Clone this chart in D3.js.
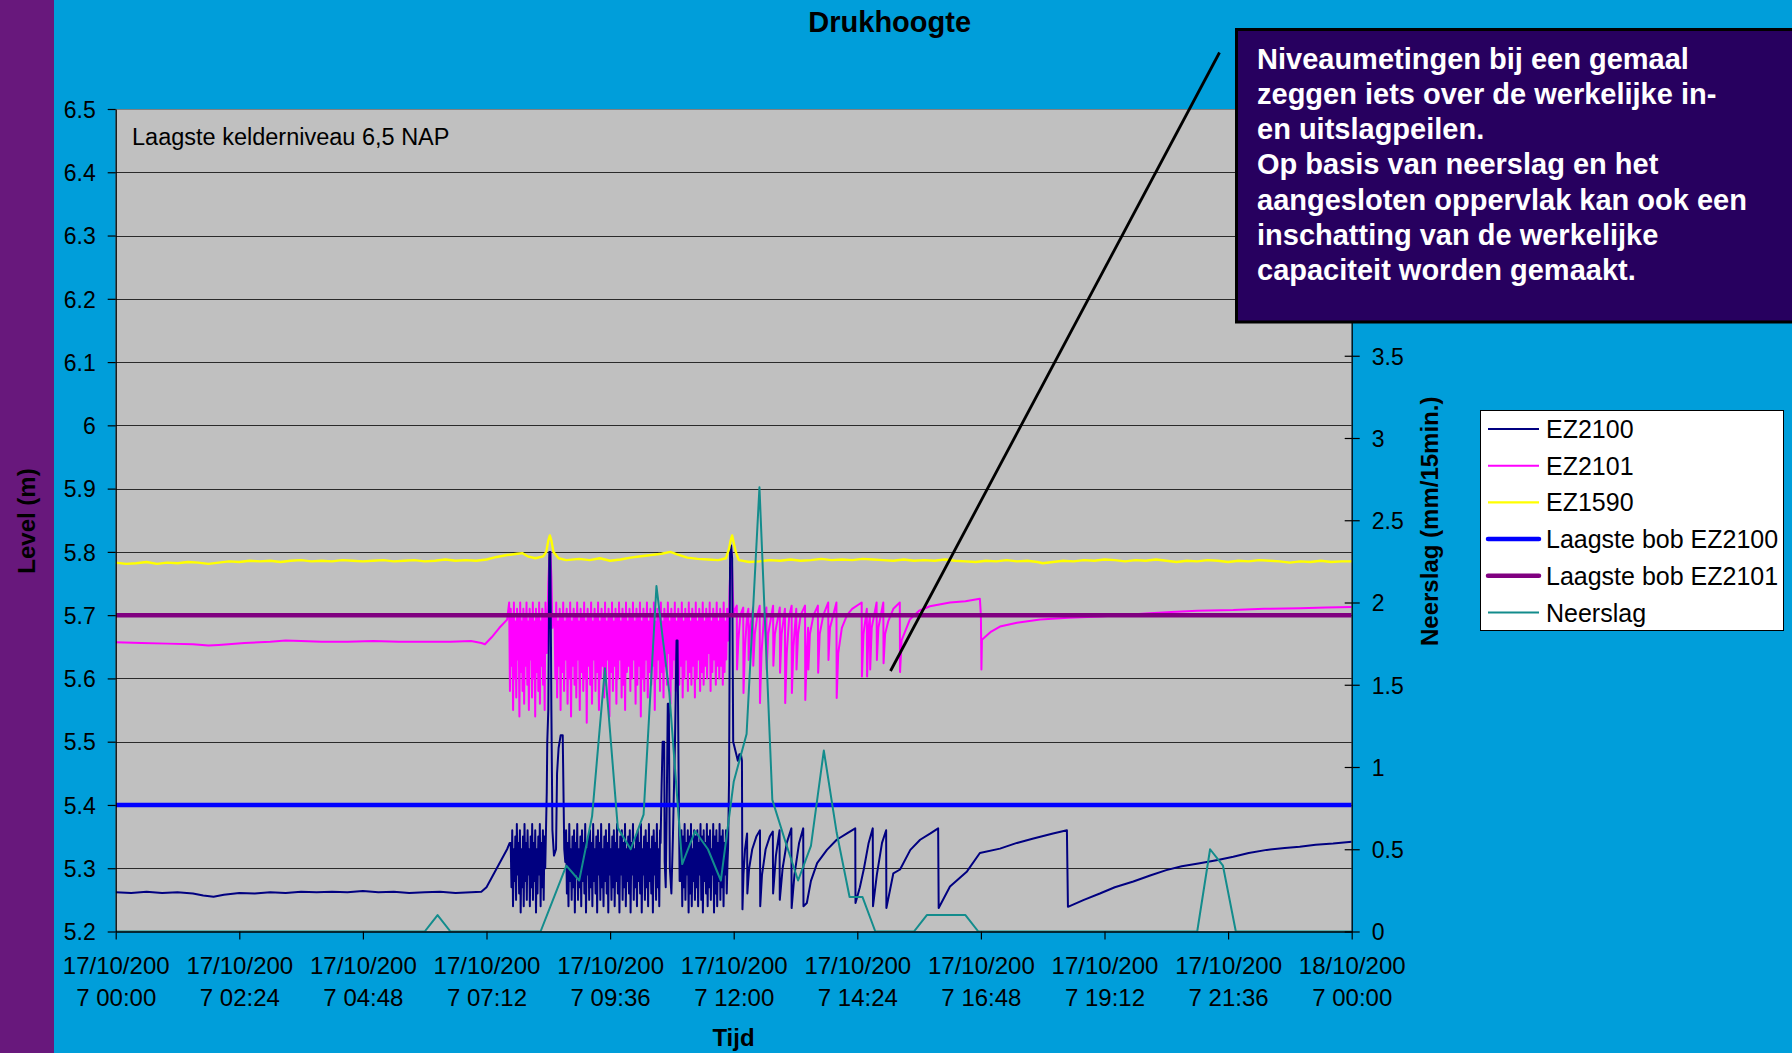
<!DOCTYPE html>
<html><head><meta charset="utf-8">
<script src="https://cdn.jsdelivr.net/npm/d3@7"></script>
<style>
html,body{margin:0;padding:0;background:#009EDA;overflow:hidden;}
svg{display:block;}
text{font-family:"Liberation Sans", Arial, sans-serif;}
</style></head><body>
<svg id="chart" width="1792" height="1053"></svg>
<script>
// ---------------- DATA ----------------
const chartTitle = "Drukhoogte";
const xTickHours = [0, 2.4, 4.8, 7.2, 9.6, 12, 14.4, 16.8, 19.2, 21.6, 24];
const xTickLabels = ["17/10/2007 00:00","17/10/2007 02:24","17/10/2007 04:48","17/10/2007 07:12","17/10/2007 09:36","17/10/2007 12:00","17/10/2007 14:24","17/10/2007 16:48","17/10/2007 19:12","17/10/2007 21:36","18/10/2007 00:00"];
const yLeftTicks = [5.2,5.3,5.4,5.5,5.6,5.7,5.8,5.9,6.0,6.1,6.2,6.3,6.4,6.5];
// right-axis ticks visible below the annotation box
const yRightTicks = [0,0.5,1,1.5,2,2.5,3,3.5];
const seriesNames = ["EZ2100","EZ2101","EZ1590","Laagste bob EZ2100","Laagste bob EZ2101","Neerslag"];

// EZ2100 : [hour, level]
const ez2100Points = [[0,5.262],[0.3,5.261],[0.6,5.263],[0.9,5.261],[1.2,5.262],[1.5,5.260],[1.7,5.257],[1.9,5.255],[2.1,5.258],[2.4,5.261],[2.7,5.260],[3.0,5.262],[3.3,5.261],[3.6,5.263],[3.9,5.262],[4.2,5.263],[4.5,5.262],[4.8,5.264],[5.1,5.262],[5.4,5.263],[5.7,5.261],[6.0,5.262],[6.3,5.263],[6.6,5.261],[6.9,5.262],[7.1,5.263],
[7.2,5.27],[7.3,5.285],[7.4,5.30],[7.5,5.315],[7.6,5.33],[7.65,5.34],
[8.35,5.34],[8.37,5.42],[8.38,5.50],[8.40,5.55],[8.42,5.80],[8.44,5.80],[8.46,5.55],[8.48,5.36],[8.51,5.32],[8.55,5.33],[8.57,5.45],[8.60,5.49],[8.64,5.51],[8.68,5.51],[8.71,5.33],
[10.58,5.34],[10.60,5.43],[10.62,5.50],[10.65,5.50],[10.66,5.31],[10.68,5.27],[10.70,5.40],[10.72,5.56],[10.74,5.56],[10.76,5.30],[10.79,5.26],[10.82,5.35],[10.86,5.50],[10.89,5.66],[10.91,5.66],[10.93,5.45],[10.95,5.28],
[11.89,5.33],[11.91,5.44],[11.93,5.80],[11.95,5.81],[11.97,5.79],[11.99,5.50],[12.02,5.49],[12.05,5.48],[12.08,5.47],[12.11,5.48],[12.14,5.48],[12.16,5.47],[12.17,5.235],
[12.19,5.29],[12.22,5.33],[12.26,5.355],[12.265,5.26],[12.30,5.30],[12.36,5.33],[12.44,5.35],[12.51,5.36],[12.515,5.24],[12.55,5.29],[12.62,5.33],[12.70,5.35],[12.76,5.358],[12.765,5.26],[12.82,5.32],[12.89,5.36],[12.895,5.25],[12.95,5.30],[13.03,5.34],[13.12,5.363],[13.125,5.237],[13.18,5.29],[13.27,5.34],[13.35,5.363],[13.355,5.24],[13.42,5.245],[13.50,5.28],[13.62,5.308],[13.81,5.329],[14.0,5.345],[14.2,5.355],[14.36,5.363],[14.365,5.245],[14.45,5.27],[14.53,5.30],[14.62,5.34],[14.70,5.363],[14.705,5.24],[14.78,5.29],[14.88,5.34],[14.96,5.36],[14.965,5.237],[15.10,5.292],[15.23,5.298],[15.43,5.329],[15.62,5.345],[15.82,5.355],[15.97,5.363],[15.98,5.237],[16.2,5.271],[16.53,5.295],[16.78,5.324],[17.17,5.331],[17.5,5.34],[17.82,5.347],[18.2,5.355],[18.47,5.36],[18.49,5.239],[18.8,5.25],[19.11,5.26],[19.4,5.27],[19.76,5.279],[20.1,5.289],[20.4,5.297],[20.7,5.303],[21.05,5.308],[21.4,5.313],[21.7,5.318],[22.0,5.324],[22.35,5.329],[22.7,5.332],[22.99,5.334],[23.3,5.337],[23.64,5.339],[24.0,5.342]];
// EZ2100 rapid pump cycling, evenly sampled inside the given hour spans
const ez2100BurstSpans = [[7.67,8.34],[8.73,10.57],[10.97,11.88]];
const ez2100Burst1 = [5.34,5.27,5.36,5.24,5.33,5.28,5.35,5.25,5.37,5.29,5.34,5.26,5.36,5.23,5.33,5.27,5.35,5.24,5.37,5.28,5.34,5.25,5.36,5.29,5.33,5.24,5.35,5.27,5.37,5.25,5.34,5.28,5.36,5.23,5.33,5.26,5.35,5.29,5.37,5.24,5.34,5.27,5.36,5.25,5.35,5.30];
const ez2100Burst2 = [5.31,5.36,5.26,5.34,5.24,5.37,5.28,5.33,5.25,5.35,
5.27,5.36,5.23,5.34,5.29,5.37,5.25,5.33,5.27,5.35,
5.24,5.36,5.28,5.34,5.26,5.37,5.23,5.33,5.29,5.35,
5.25,5.36,5.27,5.34,5.24,5.37,5.28,5.33,5.26,5.35,
5.23,5.36,5.29,5.34,5.25,5.37,5.27,5.33,5.24,5.35,
5.28,5.36,5.26,5.34,5.23,5.37,5.29,5.33,5.25,5.35,
5.27,5.36,5.24,5.34,5.28,5.37,5.26,5.33,5.23,5.35,
5.29,5.36,5.25,5.34,5.27,5.37,5.24,5.33,5.28,5.35,
5.26,5.36,5.23,5.34,5.29,5.37,5.25,5.33,5.27,5.35,
5.24,5.36,5.28,5.34,5.26,5.37,5.23,5.33,5.29,5.35,
5.25,5.36,5.27,5.34,5.24,5.37,5.28,5.33,5.26,5.35,
5.23,5.36,5.29,5.34,5.25,5.37,5.27,5.33,5.24,5.36];
const ez2100Burst3 = [5.28,5.36,5.24,5.35,5.27,5.37,5.25,5.34,5.29,5.36,
5.23,5.35,5.26,5.37,5.24,5.33,5.28,5.36,5.25,5.35,
5.27,5.36,5.24,5.34,5.29,5.37,5.25,5.35,5.23,5.36,
5.28,5.34,5.26,5.37,5.24,5.35,5.27,5.36,5.25,5.33,
5.29,5.37,5.23,5.35,5.26,5.36,5.24,5.34,5.28,5.37,
5.25,5.35,5.27,5.36,5.24,5.34,5.29,5.36,5.26,5.31];

// EZ2101 : [hour, level]
const ez2101Points = [[0,5.657],[0.5,5.656],[1.0,5.655],[1.5,5.654],[1.8,5.652],[2.0,5.653],[2.5,5.656],[3.0,5.658],[3.3,5.660],[3.6,5.659],[4.0,5.658],[4.5,5.658],[5.0,5.659],[5.5,5.658],[6.0,5.658],[6.5,5.658],[6.9,5.659],[7.1,5.656],[7.17,5.654],[7.3,5.665],[7.45,5.68],[7.6,5.693],
[8.37,5.64],[8.40,5.75],[8.42,5.79],[8.44,5.80],[8.46,5.76],[8.48,5.68],[8.50,5.70],
[11.90,5.66],[11.92,5.74],[11.94,5.79],[11.96,5.80],[11.98,5.74],[12.0,5.70],[12.03,5.71],
[12.06,5.715],[12.065,5.614],[12.09,5.66],[12.13,5.70],[12.185,5.712],[12.19,5.577],[12.22,5.65],[12.26,5.70],[12.285,5.71],[12.29,5.629],[12.32,5.68],[12.375,5.712],[12.38,5.62],[12.41,5.67],[12.46,5.70],[12.505,5.715],[12.51,5.561],[12.54,5.64],[12.59,5.70],[12.635,5.712],[12.64,5.614],[12.67,5.67],[12.765,5.715],[12.77,5.62],[12.80,5.67],[12.895,5.712],[12.90,5.609],[12.93,5.67],[12.995,5.71],[13.0,5.561],[13.03,5.64],[13.08,5.70],[13.125,5.715],[13.13,5.577],[13.16,5.65],[13.215,5.71],[13.22,5.614],[13.25,5.67],[13.30,5.70],[13.385,5.715],[13.39,5.566],[13.42,5.64],[13.445,5.68],[13.45,5.614],[13.48,5.67],[13.55,5.70],[13.635,5.715],[13.64,5.609],[13.67,5.67],[13.74,5.70],[13.835,5.72],[13.84,5.629],[13.87,5.68],[13.995,5.72],[14.0,5.569],[14.03,5.64],[14.10,5.68],[14.2,5.70],[14.3,5.71],[14.485,5.72],[14.49,5.603],[14.52,5.67],[14.585,5.71],[14.59,5.603],[14.62,5.68],[14.645,5.70],[14.65,5.614],[14.68,5.68],[14.775,5.72],[14.78,5.629],[14.81,5.68],[14.905,5.72],[14.91,5.624],[14.94,5.67],[15.0,5.69],[15.1,5.71],[15.225,5.72],[15.23,5.61],[15.26,5.66],[15.42,5.693],[15.6,5.707],[15.81,5.714],[16.2,5.72],[16.5,5.722],[16.78,5.726],[16.80,5.70],[16.81,5.614],[16.82,5.661],[17.0,5.674],[17.17,5.682],[17.5,5.688],[17.95,5.693],[18.5,5.696],[19.11,5.698],[19.5,5.700],[20.08,5.703],[20.5,5.705],[21.0,5.707],[21.7,5.708],[22.3,5.710],[23.0,5.711],[23.5,5.712],[24.0,5.713]];
const ez2101BurstSpans = [[7.64,8.36],[8.52,11.89]];
const ez2101Burst1 = [5.72,5.58,5.71,5.62,5.70,5.55,5.72,5.60,5.69,5.57,
5.71,5.63,5.70,5.54,5.72,5.61,5.69,5.58,5.71,5.56,
5.70,5.62,5.72,5.59,5.69,5.55,5.71,5.63,5.70,5.57,
5.72,5.60,5.69,5.54,5.71,5.61,5.70,5.58,5.72,5.56,
5.69,5.62,5.71,5.59,5.70,5.55,5.72,5.64];
const ez2101Burst2 = [5.70,5.60,5.72,5.57,5.69,5.62,5.71,5.55,5.70,5.61,
5.72,5.58,5.69,5.63,5.71,5.56,5.70,5.60,5.72,5.54,
5.69,5.62,5.71,5.59,5.70,5.57,5.72,5.63,5.69,5.55,
5.71,5.61,5.70,5.58,5.72,5.60,5.69,5.53,5.71,5.62,
5.70,5.59,5.72,5.56,5.69,5.63,5.71,5.58,5.70,5.61,
5.72,5.55,5.69,5.60,5.71,5.62,5.70,5.57,5.72,5.59,
5.69,5.63,5.71,5.54,5.70,5.61,5.72,5.58,5.69,5.62,
5.71,5.56,5.70,5.60,5.72,5.63,5.69,5.57,5.71,5.59,
5.70,5.55,5.72,5.61,5.69,5.62,5.71,5.58,5.70,5.60,
5.72,5.63,5.69,5.56,5.71,5.59,5.70,5.62,5.72,5.54,
5.69,5.60,5.71,5.58,5.70,5.63,5.72,5.57,5.69,5.61,
5.71,5.59,5.70,5.62,5.72,5.55,5.69,5.60,5.71,5.63,
5.70,5.58,5.72,5.61,5.69,5.57,5.71,5.62,5.70,5.59,
5.72,5.64,5.69,5.56,5.71,5.60,5.70,5.63,5.72,5.58,
5.69,5.61,5.71,5.59,5.70,5.62,5.72,5.57,5.69,5.60,
5.71,5.63,5.70,5.58,5.72,5.61,5.69,5.59,5.71,5.62,
5.70,5.57,5.72,5.60,5.69,5.63,5.71,5.58,5.70,5.61,
5.72,5.59,5.69,5.62,5.71,5.60,5.70,5.64,5.72,5.58,
5.69,5.61,5.71,5.63,5.70,5.59,5.72,5.62,5.69,5.60,
5.71,5.62,5.70,5.59,5.72,5.61,5.69,5.63,5.71,5.66];

// EZ1590 : [hour, level]
const ez1590Points = [[0,5.783],[0.2,5.781],[0.4,5.782],[0.6,5.784],[0.8,5.781],[1.0,5.783],[1.2,5.782],[1.4,5.784],[1.6,5.783],[1.8,5.781],[2.0,5.783],[2.2,5.785],[2.4,5.784],[2.6,5.786],[2.8,5.785],[3.0,5.786],[3.2,5.784],[3.4,5.786],[3.6,5.787],[3.8,5.785],[4.0,5.786],[4.2,5.785],[4.4,5.787],[4.6,5.786],[4.8,5.785],[5.0,5.786],[5.2,5.787],[5.4,5.785],[5.6,5.786],[5.8,5.787],[6.0,5.785],[6.2,5.786],[6.4,5.788],[6.6,5.786],[6.8,5.787],[7.0,5.786],[7.2,5.788],[7.4,5.792],[7.6,5.795],[7.8,5.797],[7.9,5.798],[8.0,5.793],[8.15,5.790],[8.3,5.793],[8.36,5.80],[8.40,5.818],[8.43,5.826],[8.46,5.818],[8.50,5.80],[8.6,5.79],[8.75,5.787],[9.0,5.789],[9.2,5.787],[9.4,5.790],[9.6,5.786],[9.8,5.788],[10.0,5.791],[10.2,5.793],[10.4,5.795],[10.6,5.797],[10.77,5.800],[10.9,5.796],[11.1,5.791],[11.3,5.789],[11.5,5.788],[11.7,5.787],[11.85,5.790],[11.91,5.805],[11.94,5.818],[11.97,5.826],[12.0,5.815],[12.04,5.800],[12.1,5.787],[12.3,5.784],[12.5,5.785],[12.7,5.787],[12.9,5.786],[13.1,5.788],[13.3,5.786],[13.5,5.787],[13.7,5.789],[13.9,5.787],[14.1,5.788],[14.3,5.787],[14.5,5.789],[14.7,5.788],[14.9,5.787],[15.1,5.786],[15.3,5.788],[15.5,5.786],[15.7,5.787],[15.9,5.786],[16.1,5.788],[16.3,5.786],[16.5,5.785],[16.7,5.784],[16.9,5.786],[17.1,5.785],[17.3,5.787],[17.5,5.785],[17.7,5.786],[17.9,5.784],[18.0,5.782],[18.2,5.784],[18.4,5.786],[18.6,5.785],[18.8,5.787],[19.0,5.786],[19.2,5.788],[19.4,5.787],[19.6,5.785],[19.8,5.787],[20.0,5.786],[20.2,5.788],[20.4,5.786],[20.6,5.784],[20.8,5.786],[21.0,5.785],[21.2,5.787],[21.4,5.786],[21.6,5.784],[21.8,5.786],[22.0,5.785],[22.2,5.787],[22.4,5.786],[22.6,5.785],[22.8,5.783],[23.0,5.785],[23.2,5.784],[23.4,5.786],[23.6,5.784],[23.8,5.785],[24.0,5.785]];

const bobEZ2100 = [[0,5.40],[24,5.40]];
const bobEZ2101 = [[0,5.70],[24,5.70]];

// Neerslag (mm/15min.), one value every 15 minutes from 00:00 to 24:00
const neerslag = [0,0,0,0,0,0,0,0,0,0,0,0,0,0,0,0,0,0,0,0,0,0,0,0,0,
0.1,0,0,0,0,0,0,0,0,
0.2,0.40,0.31,0.70,1.60,0.63,0.50,0.71,2.10,1.45,0.41,0.61,0.50,0.31,0.91,1.20,2.70,0.80,0.55,0.31,0.52,1.10,0.60,0.21,0.21,
0,0,0,0,
0.1,0.1,0.1,0.1,
0,0,0,0,0,0,0,0,0,0,0,0,0,0,0,0,0,0,
0.50,0.40,
0,0,0,0,0,0,0,0,0,0];

const annotationLines = ["Niveaumetingen bij een gemaal","zeggen iets over de werkelijke in-","en uitslagpeilen.","Op basis van neerslag en het","aangesloten oppervlak kan ook een","inschatting van de werkelijke","capaciteit worden gemaakt."];
const noteText = "Laagste kelderniveau 6,5 NAP";

// ---------------- LAYOUT / STYLE ----------------
const L = 115.7, R = 1351.7, T = 109, B = 931.5;
const colors = ["#000080","#FF00FF","#FFFF00","#0000FF","#800080","#138C8C"];
const widths = [2, 2, 2.4, 4.5, 4.5, 2];

const svg = d3.select("#chart");
const base = Date.UTC(2007, 9, 17, 0, 0);
const toDate = h => new Date(base + h * 3600000);

const x = d3.scaleUtc().domain([toDate(0), toDate(24)]).range([L, R]);
const yL = d3.scaleLinear().domain([5.2, 6.5]).range([B, T]);
const yR = d3.scaleLinear().domain([0, 5]).range([B, T]);

// background panels
svg.append("rect").attr("x",0).attr("y",0).attr("width",1792).attr("height",1053).attr("fill","#009EDA");
svg.append("rect").attr("x",0).attr("y",0).attr("width",54).attr("height",1053).attr("fill","#68187C");
svg.append("rect").attr("x",L).attr("y",T).attr("width",R-L).attr("height",B-T).attr("fill","#C0C0C0");

// gridlines
svg.append("g").selectAll("line").data(yLeftTicks.slice(1)).join("line")
  .attr("x1",L).attr("x2",R)
  .attr("y1",d=>Math.round(yL(d))+0.5).attr("y2",d=>Math.round(yL(d))+0.5)
  .attr("stroke",(d,i,a)=> i===a.length-1 ? "#808080" : "#2a2a2a").attr("stroke-width",1);

// build series
function burst(vals, span){ return vals.map((v,i)=>[span[0] + (span[1]-span[0]) * i/(vals.length-1), v]); }
const s2100 = ez2100Points.concat(burst(ez2100Burst1, ez2100BurstSpans[0]), burst(ez2100Burst2, ez2100BurstSpans[1]), burst(ez2100Burst3, ez2100BurstSpans[2])).sort((a,b)=>a[0]-b[0]);
const s2101 = ez2101Points.concat(burst(ez2101Burst1, ez2101BurstSpans[0]), burst(ez2101Burst2, ez2101BurstSpans[1])).sort((a,b)=>a[0]-b[0]);
const sRain = neerslag.map((v,i)=>[i*0.25, v]);

const lineL = d3.line().x(d=>x(toDate(d[0]))).y(d=>yL(d[1]));
const lineR = d3.line().x(d=>x(toDate(d[0]))).y(d=>yR(d[1]));

svg.append("clipPath").attr("id","plotclip").append("rect").attr("x",L).attr("y",T-4).attr("width",R-L).attr("height",B-T+4);
const plot = svg.append("g").attr("clip-path","url(#plotclip)");

function drawLine(data, gen, ci){
  plot.append("path").attr("d", gen(data)).attr("fill","none")
    .attr("stroke", colors[ci]).attr("stroke-width", widths[ci]).attr("stroke-linejoin","round");
}
drawLine(s2101, lineL, 1);
drawLine(s2100, lineL, 0);
drawLine(ez1590Points, lineL, 2);
drawLine(bobEZ2100, lineL, 3);
drawLine(bobEZ2101, lineL, 4);
drawLine(sRain, lineR, 5);

// axes
const fmt = d3.format("~g");
const axL = svg.append("g").attr("transform",`translate(${L},0)`)
  .call(d3.axisLeft(yL).tickValues(yLeftTicks).tickSize(8).tickSizeOuter(0).tickPadding(12).tickFormat(fmt));
const axR = svg.append("g").attr("transform",`translate(${R},0)`)
  .call(d3.axisRight(yR).tickValues(yRightTicks).tickSize(8).tickSizeOuter(0).tickPadding(12).tickFormat(fmt));
axR.selectAll(".tick line").attr("x1",-7);
const axB = svg.append("g").attr("transform",`translate(0,${B})`)
  .call(d3.axisBottom(x).tickValues(xTickHours.map(toDate)).tickSize(8).tickSizeOuter(0).tickFormat((d,i)=>xTickLabels[i]));

[axL, axR, axB].forEach(a=>{
  a.select(".domain").attr("stroke","#000").attr("stroke-width",1.3);
  a.selectAll(".tick line").attr("stroke","#000").attr("stroke-width",1.2);
  a.selectAll("text").attr("fill","#000").attr("font-family",'"Liberation Sans", Arial, sans-serif');
});
axL.selectAll("text").attr("font-size",23).attr("dy","0.36em");
axR.selectAll("text").attr("font-size",23).attr("dy","0.36em");
axB.selectAll("text").attr("font-size",24).each(function(d,i){
  const t = d3.select(this); const lab = xTickLabels[i];
  t.text(null).attr("dy",null).attr("y",null);
  t.append("tspan").attr("x",0).attr("y",42).text(lab.slice(0,9));
  t.append("tspan").attr("x",0).attr("y",74.5).text(lab.slice(9));
});

// titles
svg.append("text").attr("x",889.7).attr("y",31.7).attr("text-anchor","middle").attr("font-size",29).attr("font-weight","bold").text(chartTitle);
svg.append("text").attr("x",733.5).attr("y",1045.5).attr("text-anchor","middle").attr("font-size",24).attr("font-weight","bold").text("Tijd");
svg.append("text").attr("transform","translate(34.5,521) rotate(-90)").attr("text-anchor","middle").attr("font-size",24).attr("font-weight","bold").attr("fill","#000").text("Level (m)");
svg.append("text").attr("transform","translate(1437.5,521.3) rotate(-90)").attr("text-anchor","middle").attr("font-size",24).attr("font-weight","bold").text("Neerslag (mm/15min.)");
svg.append("text").attr("x",132).attr("y",145).attr("font-size",23.5).text(noteText);

// legend
const lg = svg.append("g");
lg.append("rect").attr("x",1480.5).attr("y",410.5).attr("width",303).attr("height",220).attr("fill","#fff").attr("stroke","#000").attr("stroke-width",1);
seriesNames.forEach((n,i)=>{
  const cy = 429 + i*36.7;
  lg.append("line").attr("x1",1488).attr("x2",1539).attr("y1",cy).attr("y2",cy).attr("stroke",colors[i]).attr("stroke-width",widths[i]).attr("stroke-linecap", i===3||i===4 ? "round":"butt");
  lg.append("text").attr("x",1546).attr("y",cy+9).attr("font-size",25).text(n);
});

// annotation
svg.append("line").attr("x1",1219.5).attr("y1",52.5).attr("x2",890.5).attr("y2",671).attr("stroke","#000").attr("stroke-width",2.8);
svg.append("rect").attr("x",1236.5).attr("y",29.5).attr("width",600).attr("height",292.5).attr("fill","#27005F").attr("stroke","#000").attr("stroke-width",3);
const at = svg.append("text").attr("font-size",29).attr("font-weight","bold").attr("fill","#fff");
annotationLines.forEach((s,i)=>{
  at.append("tspan").attr("x",1257).attr("y",68.5 + i*35.3).text(s);
});
</script>
</body></html>
